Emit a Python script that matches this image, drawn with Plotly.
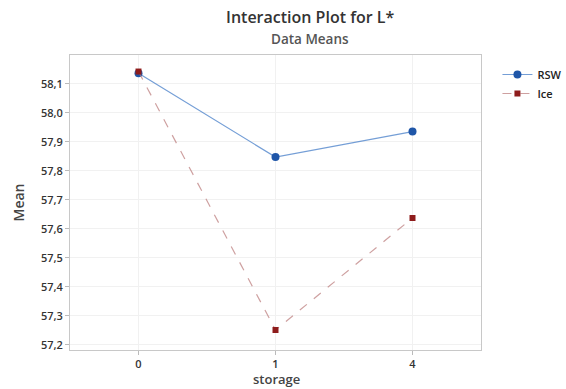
import plotly.graph_objects as go

storage = ["0", "1", "4"]
rsw_means = [58.136, 57.847, 57.935]
ice_means = [58.142, 57.251, 57.637]
y_ticks = [57.2, 57.3, 57.4, 57.5, 57.6, 57.7, 57.8, 57.9, 58.0, 58.1]
y_tick_text = ["57,2", "57,3", "57,4", "57,5", "57,6", "57,7", "57,8", "57,9", "58,0", "58,1"]

FONT = "Open Sans"
W, H = 566, 389
ML, MR, MT, MB = 70, 85, 55, 39

fig = go.Figure()
fig.add_trace(go.Scatter(
    x=storage, y=rsw_means, name="RSW", mode="lines+markers",
    line=dict(color="rgba(70,125,200,0.75)", width=1.2),
    marker=dict(color="#1f56a8", size=8, symbol="circle"),
))
fig.add_trace(go.Scatter(
    x=storage, y=ice_means, name="Ice", mode="lines+markers",
    line=dict(color="rgba(185,120,120,0.7)", width=1.2, dash="dash"),
    marker=dict(color="#8e1c1c", size=6, symbol="square"),
))

fig.update_layout(
    width=W, height=H,
    margin=dict(l=ML, r=MR, t=MT, b=MB, autoexpand=False),
    paper_bgcolor="white", plot_bgcolor="white",
    font=dict(family=FONT, color="#333333"),
    showlegend=True,
    legend=dict(x=1.04, y=0.983, xanchor="left", yanchor="top",
                font=dict(family=FONT, size=11, color="#222222", weight=600),
                bgcolor="rgba(0,0,0,0)", tracegroupgap=0, itemwidth=30),
    xaxis=dict(
        type="category", range=[-0.5, 2.5],
        showgrid=True, gridcolor="#f1f1f1", gridwidth=1,
        showline=True, linecolor="#c8c8c8", linewidth=1, mirror=True,
        ticks="outside", ticklen=4, tickcolor="#bbbbbb",
        tickfont=dict(family=FONT, size=11, color="#333333", weight=600),
        zeroline=False,
    ),
    yaxis=dict(
        range=[57.182, 58.199],
        tickvals=y_ticks, ticktext=y_tick_text,
        showgrid=True, gridcolor="#f1f1f1", gridwidth=1,
        showline=True, linecolor="#c8c8c8", linewidth=1, mirror=True,
        ticks="outside", ticklen=4, tickcolor="#bbbbbb",
        tickfont=dict(family=FONT, size=11, color="#333333", weight=600),
        title=dict(text="Mean", standoff=13,
                   font=dict(family=FONT, size=14, color="#444444", weight=600)),
        zeroline=False,
    ),
)

# title, subtitle and x-axis title placed in pixel terms relative to the plot area
plot_w = W - ML - MR
plot_h = H - MT - MB


def px_to_paper(px, py):
    return (px - ML) / plot_w, (H - MB - py) / plot_h


tx, ty = px_to_paper(310, 17)
sx, sy = px_to_paper(310, 38.5)
xx, xy = px_to_paper(276, 379)
fig.add_annotation(text="Interaction Plot for L*", x=tx, y=ty, xref="paper", yref="paper",
                   showarrow=False, xanchor="center", yanchor="middle",
                   font=dict(family=FONT, size=16, color="#333333", weight=600))
fig.add_annotation(text="Data Means", x=sx, y=sy, xref="paper", yref="paper",
                   showarrow=False, xanchor="center", yanchor="middle",
                   font=dict(family=FONT, size=13.5, color="#555555", weight=600))
fig.add_annotation(text="storage", x=xx, y=xy, xref="paper", yref="paper",
                   showarrow=False, xanchor="center", yanchor="middle",
                   font=dict(family=FONT, size=13, color="#444444", weight=600))

fig.write_html("out.html")
